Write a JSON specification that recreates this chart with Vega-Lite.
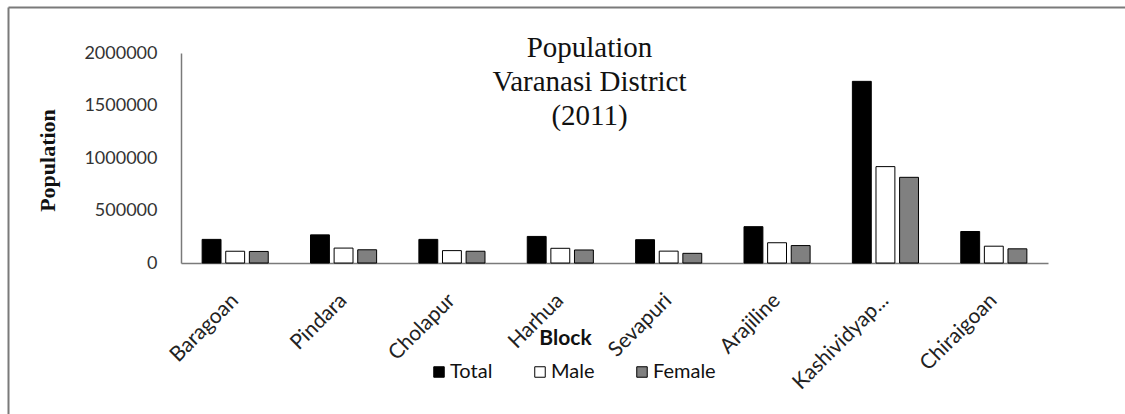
{
  "$schema": "https://vega.github.io/schema/vega-lite/v6.json",
  "autosize": {"type": "none"},
  "padding": {"left": 8, "top": 7, "right": 0, "bottom": 8},
  "width": 1117,
  "height": 399,
  "background": "white",
  "config": {
    "view": {"stroke": null},
    "axis": {"grid": false, "ticks": false}
  },
  "title": {
    "text": ["Population", "Varanasi District", "(2011)"],
    "font": "Liberation Serif",
    "fontSize": 29,
    "fontWeight": "normal",
    "color": "#111111",
    "lineHeight": 34,
    "anchor": "middle",
    "frame": "group",
    "baseline": "top",
    "offset": 0,
    "dx": 23,
    "dy": 124
  },
  "data": {
    "values": [
      {"Block": "Baragoan", "Sex": "Total", "Population": 225000},
      {"Block": "Baragoan", "Sex": "Male", "Population": 112000},
      {"Block": "Baragoan", "Sex": "Female", "Population": 110000},
      {"Block": "Pindara", "Sex": "Total", "Population": 268000},
      {"Block": "Pindara", "Sex": "Male", "Population": 142000},
      {"Block": "Pindara", "Sex": "Female", "Population": 126000},
      {"Block": "Cholapur", "Sex": "Total", "Population": 225000},
      {"Block": "Cholapur", "Sex": "Male", "Population": 118000},
      {"Block": "Cholapur", "Sex": "Female", "Population": 112000},
      {"Block": "Harhua", "Sex": "Total", "Population": 253000},
      {"Block": "Harhua", "Sex": "Male", "Population": 140000},
      {"Block": "Harhua", "Sex": "Female", "Population": 124000},
      {"Block": "Sevapuri", "Sex": "Total", "Population": 222000},
      {"Block": "Sevapuri", "Sex": "Male", "Population": 113000},
      {"Block": "Sevapuri", "Sex": "Female", "Population": 92000},
      {"Block": "Arajiline", "Sex": "Total", "Population": 346000},
      {"Block": "Arajiline", "Sex": "Male", "Population": 193000},
      {"Block": "Arajiline", "Sex": "Female", "Population": 166000},
      {"Block": "Kashividyapith", "Sex": "Total", "Population": 1730000},
      {"Block": "Kashividyapith", "Sex": "Male", "Population": 918000},
      {"Block": "Kashividyapith", "Sex": "Female", "Population": 816000},
      {"Block": "Chiraigoan", "Sex": "Total", "Population": 300000},
      {"Block": "Chiraigoan", "Sex": "Male", "Population": 160000},
      {"Block": "Chiraigoan", "Sex": "Female", "Population": 135000}
    ]
  },
  "layer": [
    {
      "mark": {"type": "point", "opacity": 0},
      "encoding": {
        "x": {
          "field": "Population",
          "type": "quantitative",
          "scale": {"domain": [0, 1], "range": [0, 1125], "nice": false},
          "axis": {"orient": "top", "labels": false, "title": null, "domainColor": "#7a7a7a", "domainWidth": 2, "offset": 0}
        },
        "y": {
          "field": "Population",
          "type": "quantitative",
          "scale": {"domain": [0, 1], "range": [0, 410], "nice": false},
          "axis": {"orient": "left", "labels": false, "title": null, "domainColor": "#7a7a7a", "domainWidth": 2, "offset": 0}
        }
      }
    },
    {
      "mark": {"type": "bar", "stroke": "black", "strokeWidth": 1},
      "encoding": {
        "x": {
          "field": "Block",
          "type": "nominal",
          "sort": null,
          "scale": {"range": [173, 1040], "paddingInner": 0.39, "paddingOuter": 0.195},
          "axis": {
            "orient": "bottom",
            "offset": -143,
            "domainColor": "#7a7a7a",
            "domainWidth": 1.5,
            "labelAngle": -45,
            "labelAlign": "right",
            "labelBaseline": "middle",
            "labelPadding": 34,
            "labelOffset": 0,
            "labelFont": "Lato",
            "labelFontSize": 21,
            "labelColor": "#222222",
            "labelExpr": "datum.label == 'Kashividyapith' ? 'Kashividyap...' : datum.label",
            "title": "Block",
            "titleFont": "Lato",
            "titleFontSize": 21,
            "titleFontWeight": "bold",
            "titleColor": "#111111",
            "titleX": 557,
            "titleY": 75,
            "titleAlign": "center",
            "titleBaseline": "middle"
          }
        },
        "xOffset": {
          "field": "Sex",
          "type": "nominal",
          "sort": ["Total", "Male", "Female"],
          "scale": {"paddingInner": 0.2, "paddingOuter": 0}
        },
        "y": {
          "field": "Population",
          "type": "quantitative",
          "scale": {"domain": [0, 2000000], "range": [256, 46], "nice": false},
          "axis": {
            "orient": "left",
            "offset": -173,
            "values": [0, 500000, 1000000, 1500000, 2000000],
            "format": "d",
            "domainColor": "#7a7a7a",
            "domainWidth": 1.5,
            "labelPadding": 24,
            "labelFont": "Lato",
            "labelFontSize": 18,
            "labelColor": "#333333",
            "title": "Population",
            "titleFont": "Liberation Serif",
            "titleFontSize": 22,
            "titleFontWeight": "bold",
            "titleColor": "#111111",
            "titleAngle": -90,
            "titleX": -134,
            "titleY": 153,
            "titleAlign": "center",
            "titleBaseline": "middle"
          }
        },
        "fill": {
          "field": "Sex",
          "type": "nominal",
          "sort": ["Total", "Male", "Female"],
          "scale": {"domain": ["Total", "Male", "Female"], "range": ["#000000", "#ffffff", "#808080"]},
          "legend": {
            "orient": "none",
            "direction": "horizontal",
            "legendX": 421,
            "legendY": 355,
            "title": null,
            "symbolType": "square",
            "symbolSize": 110,
            "symbolStrokeColor": "black",
            "symbolStrokeWidth": 1,
            "symbolOpacity": 1,
            "labelFont": "Lato",
            "labelFontSize": 20,
            "labelColor": "#111111",
            "labelOffset": 1,
            "columnPadding": 37
          }
        }
      }
    }
  ],
  "resolve": {
    "scale": {"x": "independent", "y": "independent"},
    "axis": {"x": "independent", "y": "independent"}
  }
}
